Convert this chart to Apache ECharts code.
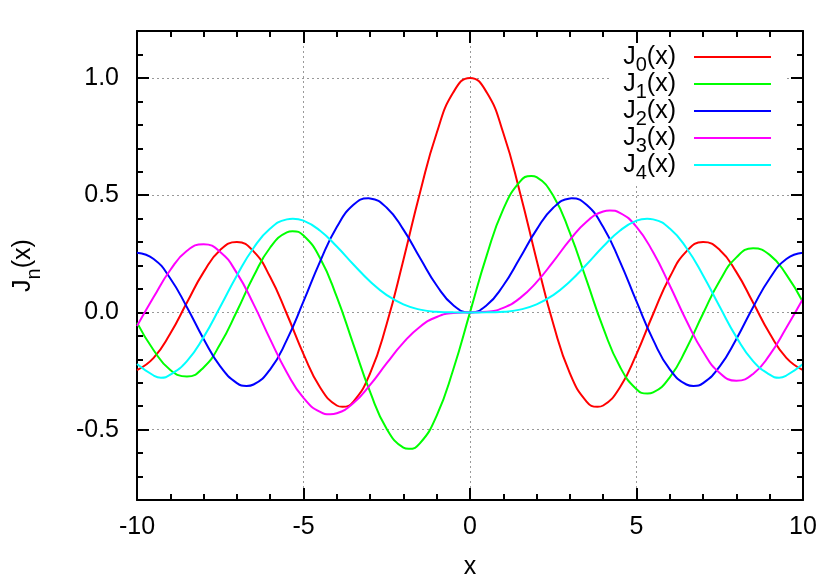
<!DOCTYPE html>
<html>
<head>
<meta charset="utf-8">
<script src="https://cdn.jsdelivr.net/npm/echarts@6/dist/echarts.min.js"></script>
<style>
html,body{margin:0;padding:0;background:#fff;}
#chart{width:830px;height:581px;}
</style>
</head>
<body>
<div id="chart"></div>
<script>
// x sample positions
const xs = [-10,-9.5,-9,-8.5,-8,-7.5,-7,-6.5,-6,-5.5,-5,-4.5,-4,-3.5,-3,-2.5,-2,-1.5,-1,-0.5,0,
            0.5,1,1.5,2,2.5,3,3.5,4,4.5,5,5.5,6,6.5,7,7.5,8,8.5,9,9.5,10];

const J0 = [-0.2459,-0.1939,-0.0903,0.0419,0.1717,0.2663,0.3001,0.2601,0.1506,-0.0068,-0.1776,-0.3205,-0.3971,-0.3801,-0.2601,-0.0484,0.2239,0.5118,0.7652,0.9385,1.0,
            0.9385,0.7652,0.5118,0.2239,-0.0484,-0.2601,-0.3801,-0.3971,-0.3205,-0.1776,-0.0068,0.1506,0.2601,0.3001,0.2663,0.1717,0.0419,-0.0903,-0.1939,-0.2459];

const J1 = [-0.0435,-0.1613,-0.2453,-0.2731,-0.2346,-0.1352,0.0047,0.1538,0.2767,0.3414,0.3276,0.2311,0.0660,-0.1374,-0.3391,-0.4971,-0.5767,-0.5579,-0.4401,-0.2423,0,
            0.2423,0.4401,0.5579,0.5767,0.4971,0.3391,0.1374,-0.0660,-0.2311,-0.3276,-0.3414,-0.2767,-0.1538,-0.0047,0.1352,0.2346,0.2731,0.2453,0.1613,0.0435];

const J2 = [0.2546,0.2279,0.1448,0.0223,-0.1130,-0.2303,-0.3014,-0.3074,-0.2429,-0.1173,0.0466,0.2178,0.3641,0.4586,0.4861,0.4461,0.3528,0.2321,0.1149,0.0306,0,
            0.0306,0.1149,0.2321,0.3528,0.4461,0.4861,0.4586,0.3641,0.2178,0.0466,-0.1173,-0.2429,-0.3074,-0.3014,-0.2303,-0.1130,0.0223,0.1448,0.2279,0.2546];

const J3 = [-0.0583,0.0653,0.1809,0.2626,0.2911,0.2580,0.1676,0.0354,-0.1148,-0.2561,-0.3648,-0.4247,-0.4302,-0.3868,-0.3091,-0.2166,-0.1289,-0.0610,-0.0196,-0.0026,0,
            0.0026,0.0196,0.0610,0.1289,0.2166,0.3091,0.3868,0.4302,0.4247,0.3648,0.2561,0.1148,-0.0354,-0.1676,-0.2580,-0.2911,-0.2626,-0.1809,-0.0653,0.0583];

const J4 = [-0.2196,-0.2691,-0.2655,-0.2077,-0.1054,0.0239,0.1578,0.2748,0.3576,0.3967,0.3912,0.3484,0.2811,0.2044,0.1320,0.0738,0.0340,0.0118,0.0025,0.0002,0,
            0.0002,0.0025,0.0118,0.0340,0.0738,0.1320,0.2044,0.2811,0.3484,0.3912,0.3967,0.3576,0.2748,0.1578,0.0239,-0.1054,-0.2077,-0.2655,-0.2691,-0.2196];

// turning points (peaks / troughs): [x, y]
const J0peaks = [[-3.83,-0.4028],[3.83,-0.4028]];
const J1peaks = [[-5.33,0.3461],[-1.84,-0.5819],[1.84,0.5819],[5.33,-0.3461]];
const J2peaks = [[-6.71,-0.3135],[-3.05,0.4865],[3.05,0.4865],[6.71,-0.3135]];
const J3peaks = [[-4.20,-0.4344],[4.20,0.4344]];
const J4peaks = [[-9.28,-0.2787],[-5.32,0.3997],[5.32,0.3997],[9.28,-0.2787]];

const seriesNames = ['J0(x)','J1(x)','J2(x)','J3(x)','J4(x)'];
const seriesValues = [J0, J1, J2, J3, J4];
const seriesPeaks = [J0peaks, J1peaks, J2peaks, J3peaks, J4peaks];
const seriesColors = ['#ff0000','#00ff00','#0000ff','#ff00ff','#00ffff'];

const xTickLabels = ['-10','-5','0','5','10'];
const yTickLabels = ['-0.5','0.0','0.5','1.0'];

const FONT = "'Liberation Sans', Arial, Helvetica, sans-serif";
const legendRich = {
  a: { fontFamily: FONT, fontSize: 25, lineHeight: 25, color: '#000' },
  s: { fontFamily: FONT, fontSize: 20, lineHeight: 20, color: '#000', padding: [16, 0, 0, 0] }
};
const nameRich = {
  a: { fontFamily: FONT, fontSize: 25, lineHeight: 25, color: '#000' },
  s: { fontFamily: FONT, fontSize: 20, lineHeight: 20, color: '#000', padding: [22, 0, 0, 0] }
};

const axisLineStyle = { color: '#000', width: 2 };
const gridLine = { show: true, lineStyle: { color: '#999', width: 1, type: [2, 3] } };

function xAxisCfg(pos, primary) {
  return {
    type: 'value', position: pos, min: -10, max: 10, interval: 5,
    axisLine: { show: true, onZero: false, lineStyle: axisLineStyle },
    axisTick: { show: true, inside: true, length: 12, lineStyle: { color: '#000', width: 2 } },
    minorTick: { show: true, splitNumber: 5, length: 6, lineStyle: { color: '#000', width: 2 } },
    axisLabel: primary ? {
      show: true, margin: 15, color: '#000', fontFamily: FONT, fontSize: 25,
      formatter: v => { const i = [-10,-5,0,5,10].indexOf(v); return i >= 0 ? xTickLabels[i] : ''; }
    } : { show: false },
    splitLine: primary ? gridLine : { show: false },
    name: primary ? 'x' : '',
    nameLocation: 'middle', nameGap: 55,
    nameTextStyle: { color: '#000', fontFamily: FONT, fontSize: 25 },
    z: primary ? 0 : 10
  };
}
function yAxisCfg(pos, primary) {
  return {
    type: 'value', position: pos, min: -0.8, max: 1.2, splitNumber: 4, minInterval: 0.5, maxInterval: 0.5,
    axisLine: { show: true, onZero: false, lineStyle: axisLineStyle },
    axisTick: { show: true, inside: true, length: 12, lineStyle: { color: '#000', width: 2 } },
    minorTick: { show: true, splitNumber: 5, length: 6, lineStyle: { color: '#000', width: 2 } },
    axisLabel: primary ? {
      show: true, margin: 18, color: '#000', fontFamily: FONT, fontSize: 25,
      showMinLabel: false, showMaxLabel: false,
      formatter: v => { const i = [-0.5,0,0.5,1].findIndex(t => Math.abs(t - v) < 1e-6); return i >= 0 ? yTickLabels[i] : ''; }
    } : { show: false },
    splitLine: primary ? gridLine : { show: false },
    name: primary ? '{a|J}{s|n}{a|(x)}' : '',
    nameLocation: 'middle', nameGap: 101, nameRotate: 90,
    nameTextStyle: { rich: nameRich },
    z: primary ? 0 : 10
  };
}

function buildData(i) {
  const pts = xs.map((x, k) => [x, seriesValues[i][k]]).concat(seriesPeaks[i]);
  pts.sort((a, b) => a[0] - b[0]);
  return pts;
}

const chart = echarts.init(document.getElementById('chart'), null, { renderer: 'canvas' });
chart.setOption({
  animation: false,
  backgroundColor: '#fff',
  grid: { left: 137, right: 27, top: 31, bottom: 81, containLabel: false, outerBoundsMode: 'none' },
  xAxis: [xAxisCfg('bottom', true), xAxisCfg('top', false)],
  yAxis: [yAxisCfg('left', true), yAxisCfg('right', false)],
  legend: {
    orient: 'vertical', right: 43, top: 31, align: 'right',
    padding: [8, 16, 0, 13], itemGap: -9, itemWidth: 77, itemHeight: 2,
    backgroundColor: '#fff', z: 4,
    data: seriesNames.map((n, i) => ({ name: n, icon: 'rect', itemStyle: { color: seriesColors[i] } })),
    formatter: name => '{a|J}{s|' + name.charAt(1) + '}{a|(x)}',
    textStyle: { rich: legendRich, padding: [0, 13, 0, 0] }
  },
  series: seriesNames.map((n, i) => ({
    name: n, type: 'line', xAxisIndex: 0, yAxisIndex: 0,
    data: buildData(i),
    smooth: true, symbol: 'none', showSymbol: false,
    lineStyle: { color: seriesColors[i], width: 2 },
    itemStyle: { color: seriesColors[i] },
    z: 2
  }))
});
</script>
</body>
</html>
